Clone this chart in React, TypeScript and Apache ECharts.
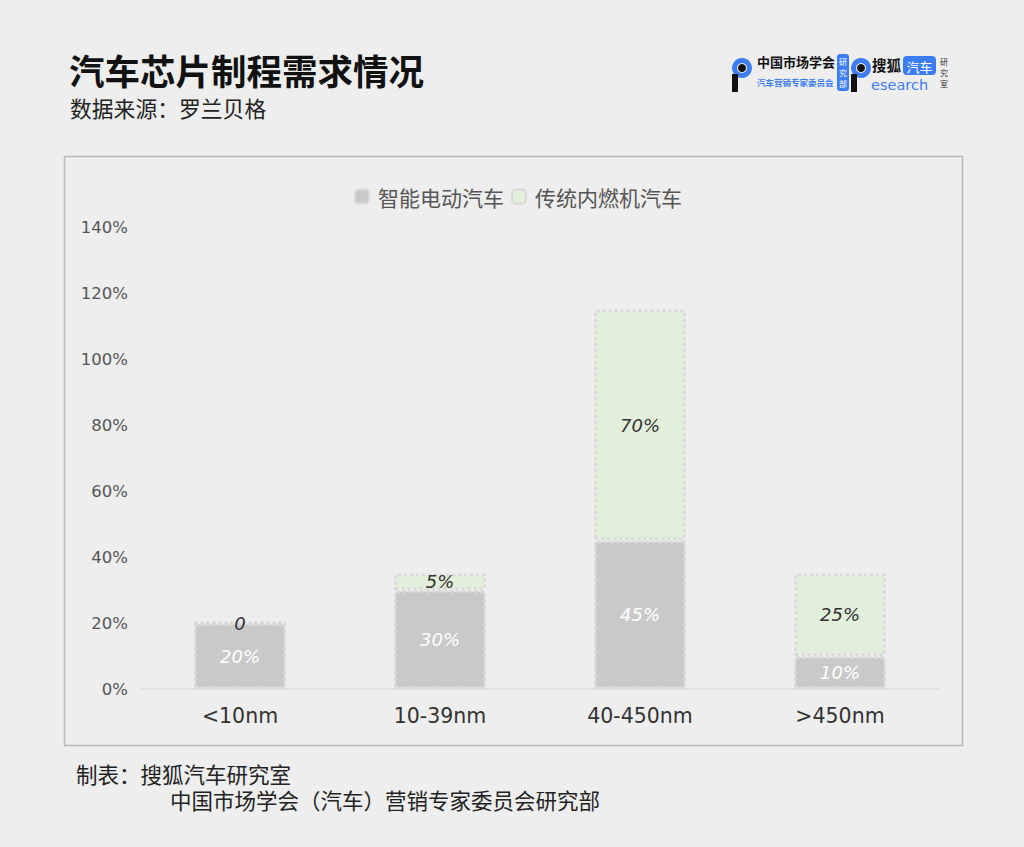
import React, { useEffect, useRef } from "react";
import * as echarts from "echarts";

const categories = ["<10nm", "10-39nm", "40-450nm", ">450nm"];
const evValues = [20, 30, 45, 10];
const iceValues = [0, 5, 70, 25];
const seriesNames = ["智能电动汽车", "传统内燃机汽车"];
const yTicks = { min: 0, max: 140, interval: 20 };

const FONT = "'Noto Sans CJK SC', 'Noto Sans', sans-serif";
const LATIN = "'DejaVu Sans', sans-serif";

export default function App() {
  const ref = useRef<HTMLDivElement>(null);
  useEffect(() => {
    document.body.style.margin = "0";
    document.body.style.background = "#eeeeee";
    const chart = echarts.init(ref.current!, null, { renderer: "svg" });
    const blue = "#3d7df2";
    chart.setOption({
      animation: false,
      backgroundColor: "#eeeeee",
      textStyle: { fontFamily: FONT },
      graphic: [
        { type: "rect", shape: { x: 64.5, y: 156.5, width: 898, height: 589 }, style: { fill: "none", stroke: "#b9b9b9", lineWidth: 1.5 }, z: -1 },
        { type: "text", x: 69, y: 52, style: { text: "汽车芯片制程需求情况", fontSize: 35.5, fontWeight: "bold", fill: "#111", fontFamily: FONT } },
        { type: "text", x: 70, y: 97, style: { text: "数据来源：罗兰贝格", fontSize: 21.8, fill: "#222", fontFamily: FONT } },
        { type: "text", x: 76, y: 763, style: { text: "制表：搜狐汽车研究室", fontSize: 21.5, fill: "#222", fontFamily: FONT } },
        { type: "text", x: 170, y: 789, style: { text: "中国市场学会（汽车）营销专家委员会研究部", fontSize: 21.5, fill: "#222", fontFamily: FONT } },
        // logo 1
        { type: "ring", shape: { cx: 742, cy: 68, r: 10, r0: 5 }, style: { fill: blue } },
        { type: "rect", shape: { x: 732, y: 74, width: 6, height: 18 }, style: { fill: "#111" } },
        { type: "circle", shape: { cx: 742, cy: 68, r: 4 }, style: { fill: "#111" } },
        { type: "text", x: 757, y: 55, style: { text: "中国市场学会", fontSize: 13, fontWeight: "bold", fill: "#111", fontFamily: FONT } },
        { type: "text", x: 757, y: 78, style: { text: "汽车营销专家委员会", fontSize: 8.5, fontWeight: "bold", fill: blue, fontFamily: FONT } },
        { type: "rect", shape: { x: 837, y: 54, width: 12, height: 37, r: 3 }, style: { fill: blue } },
        { type: "text", x: 843, y: 72, style: { text: "研\n究\n部", fontSize: 8, lineHeight: 11, fill: "#fff", align: "center", verticalAlign: "middle", fontFamily: FONT } },
        // logo 2
        { type: "ring", shape: { cx: 861, cy: 68, r: 10, r0: 5 }, style: { fill: blue } },
        { type: "rect", shape: { x: 851, y: 74, width: 6, height: 18 }, style: { fill: "#111" } },
        { type: "circle", shape: { cx: 861, cy: 68, r: 4 }, style: { fill: "#111" } },
        { type: "text", x: 872, y: 57, style: { text: "搜狐", fontSize: 14.5, fontWeight: "bold", fill: "#111", fontFamily: FONT } },
        { type: "rect", shape: { x: 903, y: 56, width: 33, height: 19, r: 4 }, style: { fill: blue } },
        { type: "text", x: 919.5, y: 66, style: { text: "汽车", fontSize: 13, fill: "#fff", align: "center", verticalAlign: "middle", fontFamily: FONT } },
        { type: "text", x: 871, y: 77, style: { text: "esearch", fontSize: 14.5, fill: blue, fontFamily: LATIN } },
        { type: "text", x: 944, y: 72, style: { text: "研\n究\n室", fontSize: 8, lineHeight: 11, fill: "#333", align: "center", verticalAlign: "middle", fontFamily: FONT } },
      ],
      legend: {
        top: 181,
        left: 349,
        itemWidth: 14,
        itemHeight: 14,
        itemGap: 7,
        textStyle: { fontSize: 21, color: "#555", fontFamily: FONT, padding: [0, 0, 0, 4] },
        data: seriesNames,
      },
      grid: { left: 140, right: 84, top: 227, bottom: 158, containLabel: false },
      xAxis: {
        type: "category",
        data: categories,
        axisLine: { lineStyle: { color: "#dddddd", width: 1.5 } },
        axisTick: { show: false },
        axisLabel: { fontSize: 20.5, color: "#333", margin: 16, fontFamily: LATIN },
      },
      yAxis: {
        type: "value",
        min: yTicks.min,
        max: yTicks.max,
        interval: yTicks.interval,
        axisLine: { show: false },
        axisTick: { show: false },
        splitLine: { show: false },
        axisLabel: { formatter: "{value}%", fontSize: 16.5, color: "#555", margin: 12, fontFamily: LATIN },
      },
      series: [
        {
          name: seriesNames[0],
          type: "bar",
          stack: "total",
          barWidth: "46%",
          data: evValues,
          itemStyle: { color: "#c9c9c9", borderColor: "#d9d9d9", borderWidth: 3, borderType: [3, 3] },
          label: { show: true, position: "inside", formatter: "{c}%", color: "#ffffff", fontSize: 18, fontStyle: "italic", fontFamily: LATIN },
        },
        {
          name: seriesNames[1],
          type: "bar",
          stack: "total",
          barWidth: "46%",
          data: iceValues,
          itemStyle: { color: "#e2efda", borderColor: "#d9d9d9", borderWidth: 3, borderType: [3, 3] },
          label: {
            show: true,
            position: "inside",
            formatter: (p: any) => (p.value === 0 ? "0" : p.value + "%"),
            color: "#333",
            fontSize: 18,
            fontStyle: "italic",
            fontFamily: LATIN,
          },
        },
      ],
    });
    return () => chart.dispose();
  }, []);
  return <div ref={ref} style={{ position: "fixed", left: 0, top: 0, width: 1024, height: 847 }} />;
}
